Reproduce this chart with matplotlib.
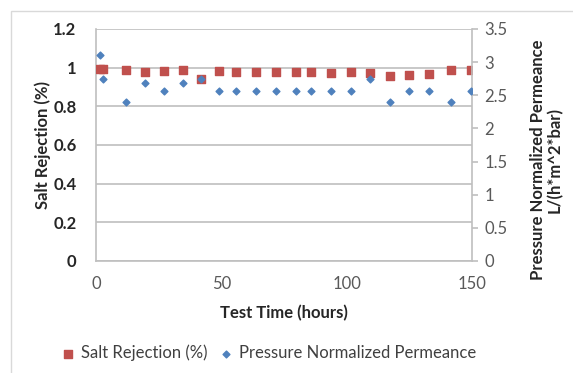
import matplotlib.pyplot as plt
from matplotlib.patches import Rectangle

plt.rcParams['font.family'] = ['Lato', 'DejaVu Sans']

time_sr = [1.5, 2.8, 12, 19.5, 27, 34.6, 42, 49, 56, 64, 72, 79.6, 85.6, 93.7, 101.7, 109.3, 117.3, 125, 133, 141.5, 149.5]
salt_rej = [0.993, 0.993, 0.986, 0.978, 0.981, 0.986, 0.943, 0.981, 0.976, 0.976, 0.976, 0.976, 0.976, 0.972, 0.976, 0.972, 0.958, 0.962, 0.967, 0.986, 0.986]

time_pm = [1.5, 2.8, 12, 19.5, 27, 34.6, 42, 49, 56, 64, 72, 79.6, 85.6, 93.7, 101.7, 109.3, 117.3, 125, 133, 141.5, 149.5]
permeance = [3.11, 2.75, 2.40, 2.68, 2.57, 2.68, 2.75, 2.57, 2.57, 2.57, 2.57, 2.57, 2.57, 2.57, 2.57, 2.75, 2.40, 2.57, 2.57, 2.40, 2.57]

left_ticks = [0, 0.2, 0.4, 0.6, 0.8, 1, 1.2]
left_labels = ['0', '0.2', '0.4', '0.6', '0.8', '1', '1.2']
right_ticks = [0, 0.5, 1, 1.5, 2, 2.5, 3, 3.5]
right_labels = ['0', '0.5', '1', '1.5', '2', '2.5', '3', '3.5']
x_ticks = [0, 50, 100, 150]

red = '#C0504D'
blue = '#4F81BD'
grid_col = '#BFBFBF'
fs = 12

fig = plt.figure(figsize=(5.73, 3.73), dpi=100)
# chart area border
fig.patches.append(Rectangle((11 / 573, -0.1), 1.2, 1.1 - 11 / 373, transform=fig.transFigure,
                             fill=False, edgecolor='#D9D9D9', linewidth=1.0))
ax = fig.add_axes([0.1675, 0.3003, 0.6562, 0.622])
ax2 = ax.twinx()

ax.set_xlim(0, 150)
ax.set_ylim(0, 1.2)
ax2.set_ylim(0, 3.5)

ax.set_yticks(left_ticks)
ax.set_yticklabels(left_labels)
ax.set_xticks(x_ticks)
ax2.set_yticks(right_ticks)
ax2.set_yticklabels(right_labels)

ax.grid(axis='y', color=grid_col, linewidth=1.2)
ax.set_axisbelow(True)

for a in (ax, ax2):
    for s in a.spines.values():
        s.set_visible(False)
for a, side in ((ax, 'bottom'), (ax, 'left'), (ax2, 'right')):
    a.spines[side].set_visible(True)
    a.spines[side].set_color(grid_col)
    a.spines[side].set_linewidth(1.2)

ax.tick_params(axis='y', length=0, pad=14, labelsize=fs, labelcolor='#262626')
ax.tick_params(axis='x', length=0, pad=11, labelsize=fs, labelcolor='#595959')
ax2.tick_params(axis='y', length=4, color=grid_col, width=1.2, pad=5, labelsize=fs, labelcolor='#595959')
for lbl in ax.get_yticklabels():
    lbl.set_fontweight('bold')

sq = ax.scatter(time_sr, salt_rej, marker='s', s=38, color=red, zorder=3, label='Salt Rejection (%)')
dm = ax2.scatter(time_pm, permeance, marker='D', s=12, color=blue, zorder=4, label='Pressure Normalized Permeance')

ax.set_xlabel('Test Time (hours)', fontsize=fs, fontweight='bold', color='#262626', labelpad=9)
ax.set_ylabel('Salt Rejection (%)', fontsize=fs, fontweight='bold', color='#262626', labelpad=2)
fig.text(546 / 573, 1 - 160 / 373, 'Pressure Normalized Permeance\nL/(h*m^2*bar)', fontsize=fs,
         fontweight='bold', color='#262626', rotation=90, ha='center', va='center',
         multialignment='center', linespacing=1.05)

fig.legend(handles=[sq, dm], loc='center', bbox_to_anchor=(264 / 573, 1 - 353 / 373), ncol=2,
           frameon=False, fontsize=fs, handletextpad=-0.2, columnspacing=0.1, markerscale=1.0)
for t in fig.legends[0].get_texts():
    t.set_color('#404040')

fig.savefig('out.png', dpi=100)
